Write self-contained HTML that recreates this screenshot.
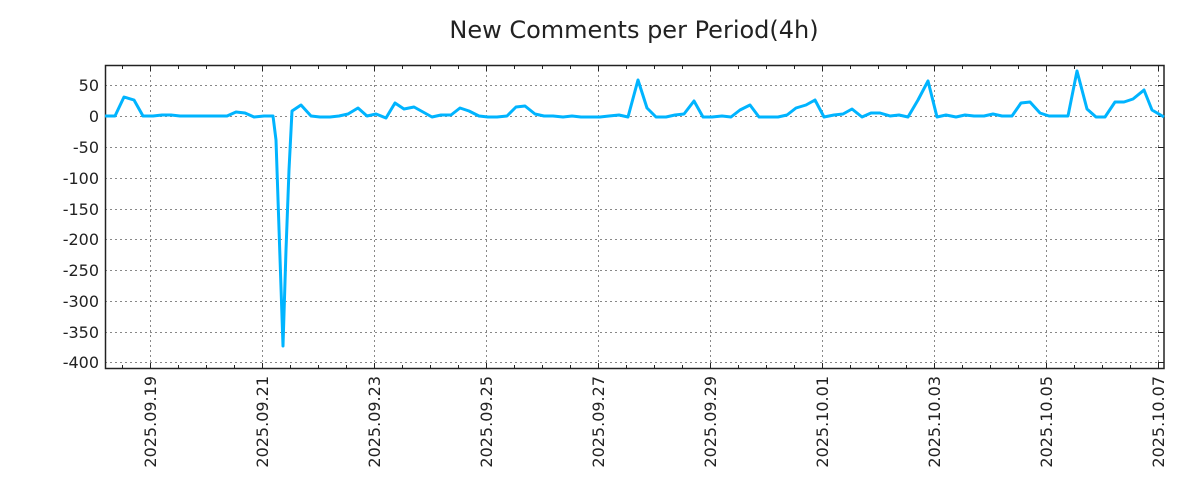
<!DOCTYPE html>
<html><head><style>body{margin:0;background:#fff}svg{display:block}text{font-family:"DejaVu Sans","Liberation Sans",sans-serif;fill:#222}</style></head>
<body>
<svg width="1200" height="500" xmlns="http://www.w3.org/2000/svg">
<text x="634" y="38" font-size="24" text-anchor="middle">New Comments per Period(4h)</text>
<g stroke="#888" stroke-dasharray="2,3" stroke-width="1">
<line x1="105" x2="1164" y1="85.5" y2="85.5"/><line x1="105" x2="1164" y1="116.5" y2="116.5"/><line x1="105" x2="1164" y1="147.5" y2="147.5"/><line x1="105" x2="1164" y1="178.5" y2="178.5"/><line x1="105" x2="1164" y1="209.5" y2="209.5"/><line x1="105" x2="1164" y1="239.5" y2="239.5"/><line x1="105" x2="1164" y1="270.5" y2="270.5"/><line x1="105" x2="1164" y1="301.5" y2="301.5"/><line x1="105" x2="1164" y1="332.5" y2="332.5"/><line x1="105" x2="1164" y1="362.5" y2="362.5"/>
<line y1="65" y2="369" x1="150.5" x2="150.5"/><line y1="65" y2="369" x1="262.5" x2="262.5"/><line y1="65" y2="369" x1="374.5" x2="374.5"/><line y1="65" y2="369" x1="486.5" x2="486.5"/><line y1="65" y2="369" x1="598.5" x2="598.5"/><line y1="65" y2="369" x1="710.5" x2="710.5"/><line y1="65" y2="369" x1="822.5" x2="822.5"/><line y1="65" y2="369" x1="934.5" x2="934.5"/><line y1="65" y2="369" x1="1046.5" x2="1046.5"/><line y1="65" y2="369" x1="1158.5" x2="1158.5"/>
</g>
<g stroke="#222" stroke-width="1">
<path d="M122.5,65v4M150.5,65v6M178.5,65v4M206.5,65v4M234.5,65v4M262.5,65v6M290.5,65v4M318.5,65v4M346.5,65v4M374.5,65v6M402.5,65v4M430.5,65v4M458.5,65v4M486.5,65v6M514.5,65v4M542.5,65v4M570.5,65v4M598.5,65v6M626.5,65v4M654.5,65v4M682.5,65v4M710.5,65v6M738.5,65v4M766.5,65v4M794.5,65v4M822.5,65v6M850.5,65v4M878.5,65v4M906.5,65v4M934.5,65v6M962.5,65v4M990.5,65v4M1018.5,65v4M1046.5,65v6M1074.5,65v4M1102.5,65v4M1130.5,65v4M1158.5,65v6"/>
<path d="M122.5,369v-4M150.5,369v-6M178.5,369v-4M206.5,369v-4M234.5,369v-4M262.5,369v-6M290.5,369v-4M318.5,369v-4M346.5,369v-4M374.5,369v-6M402.5,369v-4M430.5,369v-4M458.5,369v-4M486.5,369v-6M514.5,369v-4M542.5,369v-4M570.5,369v-4M598.5,369v-6M626.5,369v-4M654.5,369v-4M682.5,369v-4M710.5,369v-6M738.5,369v-4M766.5,369v-4M794.5,369v-4M822.5,369v-6M850.5,369v-4M878.5,369v-4M906.5,369v-4M934.5,369v-6M962.5,369v-4M990.5,369v-4M1018.5,369v-4M1046.5,369v-6M1074.5,369v-4M1102.5,369v-4M1130.5,369v-4M1158.5,369v-6"/>
<path d="M1164,85.5h-6M1164,116.5h-6M1164,147.5h-6M1164,178.5h-6M1164,209.5h-6M1164,239.5h-6M1164,270.5h-6M1164,301.5h-6M1164,332.5h-6M1164,362.5h-6"/>
</g>
<rect x="105.5" y="65.5" width="1058.5" height="303" fill="none" stroke="#222" stroke-width="1.5"/>
<g font-size="16" text-anchor="end">
<text x="99" y="91">50</text><text x="99" y="122">0</text><text x="99" y="153">-50</text><text x="99" y="184">-100</text><text x="99" y="215">-150</text><text x="99" y="245">-200</text><text x="99" y="276">-250</text><text x="99" y="307">-300</text><text x="99" y="338">-350</text><text x="99" y="368">-400</text>
</g>
<g font-size="16" text-anchor="end">
<text transform="translate(156,376) rotate(-90)">2025.09.19</text>
<text transform="translate(268,376) rotate(-90)">2025.09.21</text>
<text transform="translate(380,376) rotate(-90)">2025.09.23</text>
<text transform="translate(492,376) rotate(-90)">2025.09.25</text>
<text transform="translate(604,376) rotate(-90)">2025.09.27</text>
<text transform="translate(716,376) rotate(-90)">2025.09.29</text>
<text transform="translate(828,376) rotate(-90)">2025.10.01</text>
<text transform="translate(940,376) rotate(-90)">2025.10.03</text>
<text transform="translate(1052,376) rotate(-90)">2025.10.05</text>
<text transform="translate(1164,376) rotate(-90)">2025.10.07</text>
</g>
<polyline fill="none" stroke="#00b4ff" stroke-width="3" stroke-linejoin="round" points="105,116 115,116 124,97 134,100 143,116 153,116 162,115 171,115 180,116 227,116 236,112 245,113 254,117 264,116 273,116 276,140 280,258 283,346 286,250 289,170 292,111 301,105 311,116 320,117 330,117 339,116 348,114 358,108 367,116 376,114 386,118 395,103 404,109 414,107 423,112 432,117 441,115 451,115 460,108 469,111 479,116 488,117 497,117 507,116 516,107 525,106 535,114 544,116 553,116 563,117 572,116 581,117 591,117 600,117 609,116 619,115 628,117 638,80 647,108 656,117 666,117 675,115 684,114 694,101 703,117 712,117 722,116 731,117 740,110 750,105 759,117 768,117 778,117 787,115 796,108 806,105 815,100 824,117 834,115 843,114 852,109 862,117 871,113 880,113 890,116 899,115 908,117 918,100 928,81 937,117 946,115 956,117 965,115 974,116 984,116 993,114 1002,116 1012,116 1021,103 1030,102 1040,113 1049,116 1058,116 1068,116 1077,71 1087,109 1096,117 1105,117 1115,102 1124,102 1133,99 1144,90 1152,110 1164,117"/>
</svg>
</body></html>
